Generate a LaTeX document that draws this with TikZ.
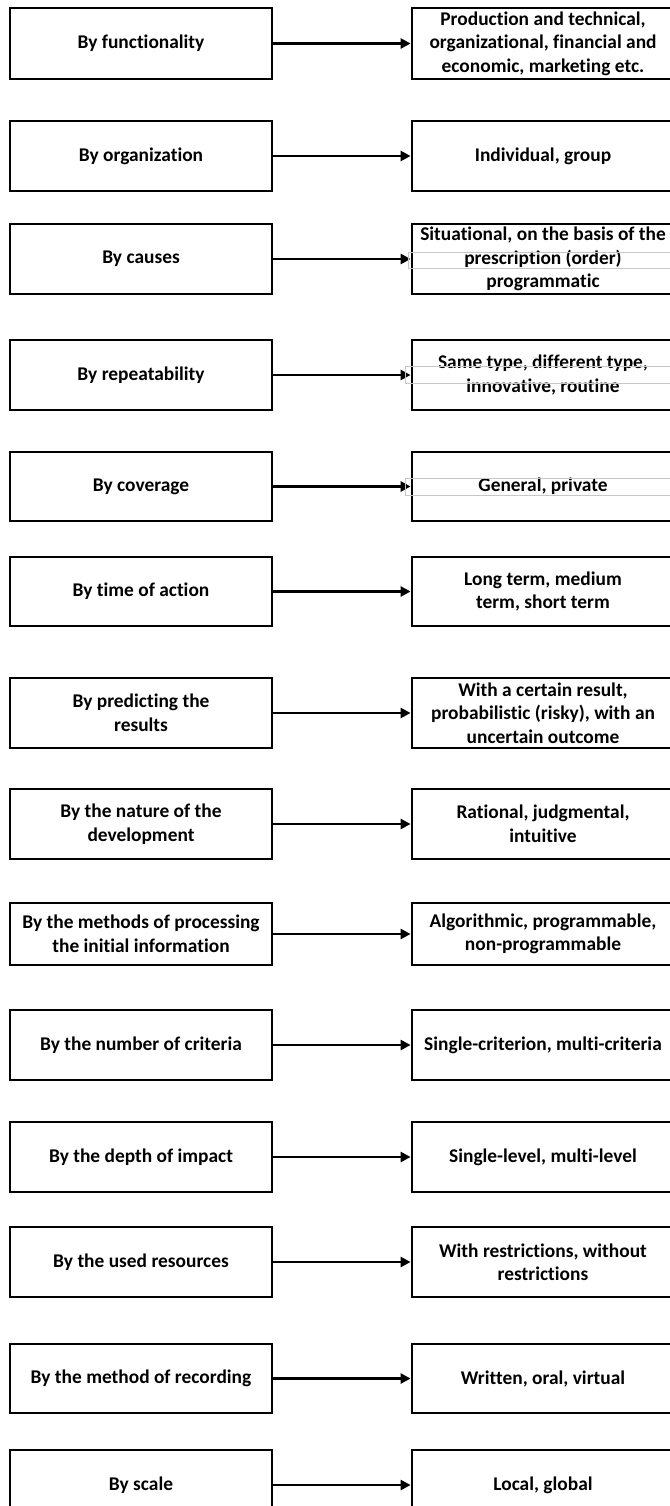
\documentclass[tikz,border=0pt]{standalone}
\usepackage{fontspec}
\setmainfont{Carlito}[Ligatures=NoCommon]
\usetikzlibrary{arrows.meta}
\begin{document}
\begin{tikzpicture}[x=1pt,y=-1pt,
  box/.style={draw=black,line width=2.8pt,minimum width=262pt,inner sep=0pt,align=center,
    font=\fontsize{19.4}{23.5}\selectfont\bfseries},
  conn/.style={line width=2.8pt,-{Triangle[length=10pt,width=10pt]}},
  tbox/.style={draw=black!22,line width=0.6pt}]
\useasboundingbox (0,0) rectangle (669,1506);
\newcommand\rowpair[5]{%
  \node[box,minimum height=#3pt] (L#1) at (141,#2) {#4};
  \node[box,minimum height=#3pt] (R#1) at (543,#2) {#5};
  \draw[conn] (L#1.east) -- (R#1.west);}
\rowpair{1}{43.5}{71}{By functionality}{Production and technical,\\organizational, financial and\\economic, marketing etc.}
\rowpair{2}{156}{70}{By organization}{Individual, group}
\rowpair{3}{259}{70}{By causes}{Situational, on the basis of the\\prescription (order)\\programmatic}
\rowpair{4}{375}{70}{By repeatability}{Same type, different type,\\innovative, routine}
\rowpair{5}{486.5}{69}{By coverage}{General, private}
\rowpair{6}{591.5}{69}{By time of action}{Long term, medium\\term, short term}
\rowpair{7}{713}{70}{By predicting the\\results}{With a certain result,\\probabilistic (risky), with an\\uncertain outcome}
\rowpair{8}{824}{70}{By the nature of the\\development}{Rational, judgmental,\\intuitive}
\rowpair{9}{934}{62}{By the methods of processing\\the initial information}{Algorithmic, programmable,\\non-programmable}
\rowpair{10}{1045}{70}{By the number of criteria}{Single-criterion, multi-criteria}
\rowpair{11}{1157}{70}{By the depth of impact}{Single-level, multi-level}
\rowpair{12}{1262}{70}{By the used resources}{With restrictions, without\\restrictions}
\rowpair{13}{1378.5}{69}{By the method of recording}{Written, oral, virtual}
\rowpair{14}{1485}{70}{By scale}{Local, global}
% faint text-box outlines
\draw[tbox] (408,252) rectangle (680,268);
\draw[tbox] (405,366) rectangle (680,383);
\draw[tbox] (405,478) rectangle (680,495);
\end{tikzpicture}
\end{document}
